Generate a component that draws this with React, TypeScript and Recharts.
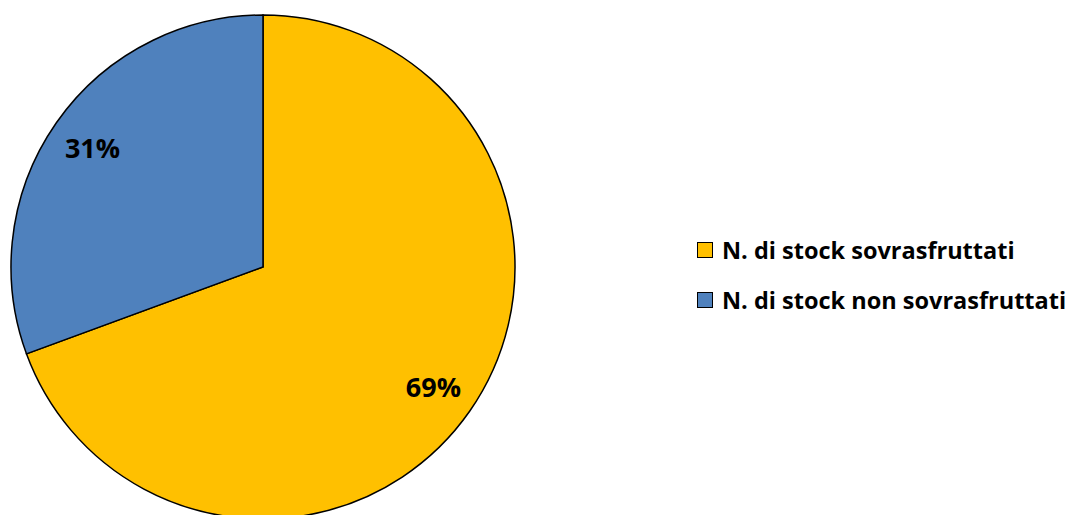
import { Cell, Legend, Pie, PieChart } from 'recharts'

const labels = ['N. di stock sovrasfruttati', 'N. di stock non sovrasfruttati']
const shares = [69.4, 30.6]
const COLORS = ['#FFC000', '#4F81BD']

const data = labels.map((name, i) => ({ name, value: shares[i] }))

const RAD = Math.PI / 180
const FONT = '"Open Sans", "Noto Sans", sans-serif'

// percent label placed inside each slice along its mid angle
function renderLabel(props: any) {
  const { cx, cy, midAngle, outerRadius, value } = props
  const r = outerRadius * 0.825
  const x = cx + r * Math.cos(-midAngle * RAD)
  const y = cy + r * Math.sin(-midAngle * RAD)
  return (
    <text x={x} y={y} textAnchor="middle" dominantBaseline="central" fontFamily={FONT} fontWeight={700} fontSize={27} fill="#000">
      {`${Math.round(value)}%`}
    </text>
  )
}

function renderLegend(props: any) {
  // keep the data order, recharts sorts the payload by name
  const items = [...props.payload].sort((a: any, b: any) => labels.indexOf(a.value) - labels.indexOf(b.value))
  return (
    <div style={{ fontFamily: FONT, fontWeight: 700, fontSize: 23.5, color: '#000' }}>
      {items.map((p: any) => (
        <div key={p.value} style={{ display: 'flex', alignItems: 'center', height: 50 }}>
          <span style={{ width: 14, height: 14, background: p.color, border: '1px solid #000', marginRight: 9, display: 'inline-block' }} />
          <span>{p.value}</span>
        </div>
      ))}
    </div>
  )
}

export default function App() {
  return (
    <div style={{ position: 'absolute', left: 0, top: 0 }}>
      <PieChart width={1079} height={515} margin={{ top: 0, right: 0, bottom: 0, left: 0 }}>
        <Pie
          data={data}
          dataKey="value"
          nameKey="name"
          cx={263}
          cy={267}
          outerRadius={252}
          startAngle={90}
          endAngle={-270}
          stroke="#000"
          strokeWidth={1.5}
          label={renderLabel}
          labelLine={false}
          isAnimationActive={false}
        >
          {data.map((d, i) => (
            <Cell key={d.name} fill={COLORS[i]} />
          ))}
        </Pie>
        <Legend content={renderLegend} wrapperStyle={{ left: 697, top: 225, width: 382 }} />
      </PieChart>
    </div>
  )
}
